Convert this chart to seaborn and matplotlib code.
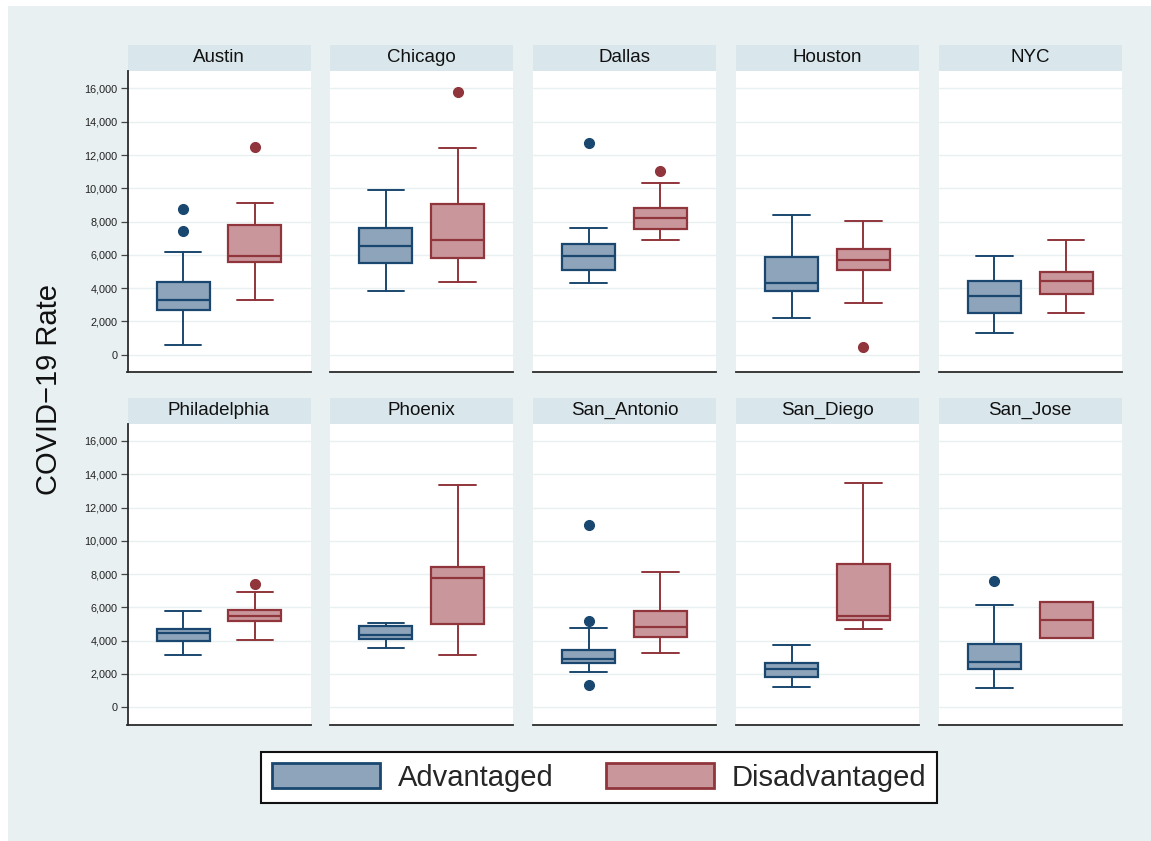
import numpy as np
import pandas as pd
import matplotlib
matplotlib.use("Agg")
import matplotlib.pyplot as plt
from matplotlib.patches import Rectangle, Patch
import seaborn as sns

# ---------------- data ----------------
cities = ["Austin", "Chicago", "Dallas", "Houston", "NYC",
          "Philadelphia", "Phoenix", "San_Antonio", "San_Diego", "San_Jose"]

adv_low  = [560, 3800, 4280, 2200, 1280, 3160, 3580, 2120, 1240, 1140]
adv_q1   = [2660, 5530, 5090, 3840, 2480, 4000, 4090, 2680, 1800, 2280]
adv_med  = [3260, 6550, 5910, 4320, 3520, 4430, 4350, 2900, 2320, 2740]
adv_q3   = [4380, 7590, 6650, 5890, 4420, 4710, 4850, 3440, 2680, 3770]
adv_high = [6150, 9890, 7590, 8370, 5930, 5770, 5070, 4730, 3750, 6130]
adv_out  = [[8730, 7430], [], [12750], [], [], [], [], [10950, 5190, 1360], [], [7610]]

dis_low  = [3280, 4360, 6910, 3100, 2520, 4050, 3140, 3240, 4690, 4150]
dis_q1   = [5550, 5830, 7530, 5070, 3660, 5170, 4990, 4210, 5250, 4150]
dis_med  = [5910, 6910, 8230, 5710, 4440, 5490, 7750, 4810, 5510, 5250]
dis_q3   = [7790, 9070, 8810, 6370, 5000, 5870, 8450, 5810, 8630, 6330]
dis_high = [9130, 12410, 10290, 8030, 6890, 6930, 13380, 8110, 13460, 6330]
dis_out  = [[12510], [15780], [11070], [480], [], [7430], [], [], [], []]

groups = ["Advantaged", "Disadvantaged"]
yticks = [0, 2000, 4000, 6000, 8000, 10000, 12000, 14000, 16000]

# ---------------- styling ----------------
edge_cols = {"Advantaged": "#1a476f", "Disadvantaged": "#90353b"}
fill_cols = {"Advantaged": "#8da4ba", "Disadvantaged": "#c9979b"}
BG = "#e8f0f2"
STRIP = "#d9e6eb"

rows = []
for i, c in enumerate(cities):
    rows.append(dict(city=c, group="Advantaged", pos=0, whislo=adv_low[i], q1=adv_q1[i],
                     med=adv_med[i], q3=adv_q3[i], whishi=adv_high[i], fliers=adv_out[i]))
    rows.append(dict(city=c, group="Disadvantaged", pos=1, whislo=dis_low[i], q1=dis_q1[i],
                     med=dis_med[i], q3=dis_q3[i], whishi=dis_high[i], fliers=dis_out[i]))
df = pd.DataFrame(rows)

sns.set_theme(style="white")
plt.rcParams["font.family"] = ["Liberation Sans", "DejaVu Sans"]

W, H = 1151, 841
g = sns.FacetGrid(df, col="city", col_wrap=5, sharey=True, sharex=True,
                  height=3, aspect=0.6, despine=False)
fig = g.figure
fig.set_size_inches(W / 100, H / 100)
fig.set_dpi(100)
fig.patch.set_facecolor("white")
fig.patches.append(Rectangle((8 / W, 0), 1 - 8 / W, 1 - 6 / H, transform=fig.transFigure,
                             facecolor=BG, edgecolor="none", zorder=-10))


def draw_boxes(data, **kws):
    ax = plt.gca()
    for _, r in data.iterrows():
        st = dict(med=r["med"], q1=r["q1"], q3=r["q3"], whislo=r["whislo"],
                  whishi=r["whishi"], fliers=list(r["fliers"]))
        ec = edge_cols[r["group"]]
        fc = fill_cols[r["group"]]
        ax.bxp([st], positions=[r["pos"]], widths=[0.74], capwidths=[0.51],
               patch_artist=True, showfliers=True, manage_ticks=False,
               boxprops=dict(facecolor=fc, edgecolor=ec, linewidth=1.6),
               medianprops=dict(color=ec, linewidth=1.6),
               whiskerprops=dict(color=ec, linewidth=1.4),
               capprops=dict(color=ec, linewidth=1.4),
               flierprops=dict(marker="o", markerfacecolor=ec, markeredgecolor=ec,
                               markersize=7, linestyle="none"))


g.map_dataframe(draw_boxes)

left0, step, pw = 127.5, 202.8, 183.0
tops = [71.0, 423.5]
ph = 301.0
sh = 26.0
for k, ax in enumerate(g.axes.flat):
    r, c = divmod(k, 5)
    x0 = left0 + c * step
    y0 = tops[r]
    ax.set_position([x0 / W, 1 - (y0 + ph) / H, pw / W, ph / H])
    ax.set_facecolor("white")
    ax.set_xlim(-0.775, 1.775)
    ax.set_ylim(-1040, 17050)
    ax.set_yticks(yticks)
    ax.set_xticks([])
    ax.set_title("")
    ax.set_xlabel("")
    ax.set_ylabel("")
    ax.grid(False)
    for yv in yticks:
        ax.axhline(yv, color="#e9f0f2", linewidth=1.0, zorder=0)
    for s in ["top", "right"]:
        ax.spines[s].set_visible(False)
    ax.spines["bottom"].set_color("#2b2b2b")
    ax.spines["bottom"].set_linewidth(1.3)
    if c == 0:
        ax.spines["left"].set_visible(True)
        ax.spines["left"].set_color("#2b2b2b")
        ax.spines["left"].set_linewidth(1.3)
        ax.tick_params(axis="y", which="both", left=True, labelleft=True, length=5,
                       width=0.9, color="#444444", labelsize=7.8, labelcolor="#222222",
                       pad=2, direction="out")
        ax.set_yticklabels([f"{v:,}" for v in yticks])
    else:
        ax.spines["left"].set_visible(False)
        ax.tick_params(axis="y", left=False, labelleft=False)
    # title strip
    city = cities[k]
    ax.add_patch(Rectangle((0, 1), 1, sh / ph, transform=ax.transAxes, clip_on=False,
                           facecolor=STRIP, edgecolor="none"))
    ax.text(0.5, 1 + sh / ph / 2, city, transform=ax.transAxes, ha="center", va="center",
            fontsize=13.5, color="#111111")

fig.text(49 / W, 1 - 389 / H, "COVID\u221219 Rate", rotation=90, ha="center", va="center",
         fontsize=21, color="#111111")

handles = [Patch(facecolor=fill_cols[gname], edgecolor=edge_cols[gname], linewidth=2,
                 label=gname) for gname in groups]
leg = fig.legend(handles=handles, loc="center", bbox_to_anchor=(599 / W, 1 - 777.5 / H),
                 ncol=2, fontsize=21, frameon=True, fancybox=False, framealpha=1,
                 handlelength=3.7, handleheight=0.95, handletextpad=0.6,
                 columnspacing=1.8, borderpad=0.38)
leg.get_frame().set_edgecolor("#111111")
leg.get_frame().set_linewidth(1.5)
leg.get_frame().set_facecolor("white")

fig.savefig("out.png", dpi=100, facecolor=fig.get_facecolor())
